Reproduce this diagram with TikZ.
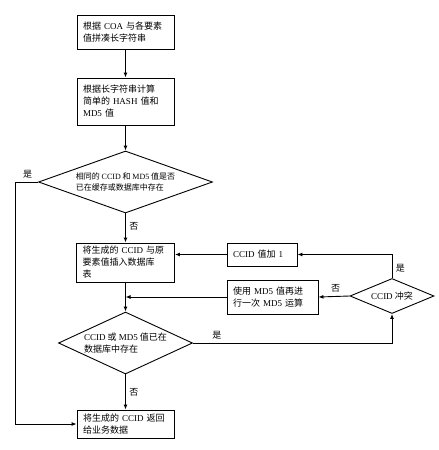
\documentclass[tikz,border=0pt]{standalone}
\usepackage{fontspec}
\setmainfont{Noto Sans CJK SC}
\newfontfamily\latin{Liberation Serif}
\newcommand{\en}[1]{{\latin #1}}
\usetikzlibrary{shapes.geometric,arrows.meta}

\begin{document}
\begin{tikzpicture}[x=1pt, y=-1pt, line width=0.9pt,
    >={Latex[length=5pt,width=4pt]},
    every node/.style={font=\fontsize{9}{12}\selectfont},
    procbox/.style={draw, rectangle, align=left, inner xsep=6pt, inner ysep=0pt},
    decision/.style={draw, diamond, inner sep=0pt}]
    \useasboundingbox (0,0) rectangle (439,450);

    % Main column
    \node[procbox, text width=85pt, minimum height=34pt] (b1) at (125.5,32)
        {根据 \en{COA} 与各要素\\值拼凑长字符串};
    \node[procbox, text width=85pt, minimum height=47pt] (b2) at (125.5,101.5)
        {根据长字符串计算\\简单的 \en{HASH} 值和\\\en{MD5} 值};
    \node[decision, minimum width=174pt, minimum height=62pt,
        label={[align=left, font=\fontsize{8}{11.5}\selectfont]center:相同的 \en{CCID} 和 \en{MD5} 值是否\\已在缓存或数据库中存在}] (d1) at (125.5,182) {};
    \node[procbox, text width=86pt, minimum height=39pt] (b3) at (125.5,262.5)
        {将生成的 \en{CCID} 与原\\要素值插入数据库\\表};
    \node[decision, minimum width=134pt, minimum height=62pt,
        label={[align=left]center:\en{CCID} 或 \en{MD5} 值已在\\数据库中存在}] (d2) at (125.5,343) {};
    \node[procbox, text width=85pt, minimum height=28pt] (fin) at (125.5,424)
        {将生成的 \en{CCID} 返回\\给业务数据};

    % Collision branch
    \node[procbox, text width=58pt, minimum height=23pt] (inc) at (262,254.5)
        {\en{CCID} 值加 \en{1}};
    \node[procbox, text width=79pt, minimum height=34pt] (md5) at (272.5,297)
        {使用 \en{MD5} 值再进\\行一次 \en{MD5} 运算};
    \node[decision, minimum width=84pt, minimum height=35pt,
        label={center:\en{CCID} 冲突}] (d3) at (392,296) {};

    \coordinate (rail) at (15,0);

    % Connectors
    \draw[->] (b1) -- (b2);
    \draw[->] (b2) -- (d1);
    \draw[->] (d1) -- node[right, pos=0.45] (n1) {否} (b3);
    \draw[->] (d1.west) -- node[above, pos=0.45] (y1) {是} (d1.west -| rail) |- (fin.west);
    \draw[->] (b3) -- (d2);
    \draw[->] (d2) -- node[right] (n2) {否} (fin);
    \draw[->] (d2.east) -| node[above, pos=0.06] (y2) {是} (d3.south);
    \draw[->] (d3.north) |- node[right, pos=0.2] (y3) {是} (inc.east);
    \draw[->] (d3.west) -- node[above, pos=0.45] (n3) {否} (md5.east);
    \draw[->] (inc.west) -- (inc.west -| b3.east);
    \draw[->] (md5.west) -- (md5.west -| b3.south);
\end{tikzpicture}
\end{document}
